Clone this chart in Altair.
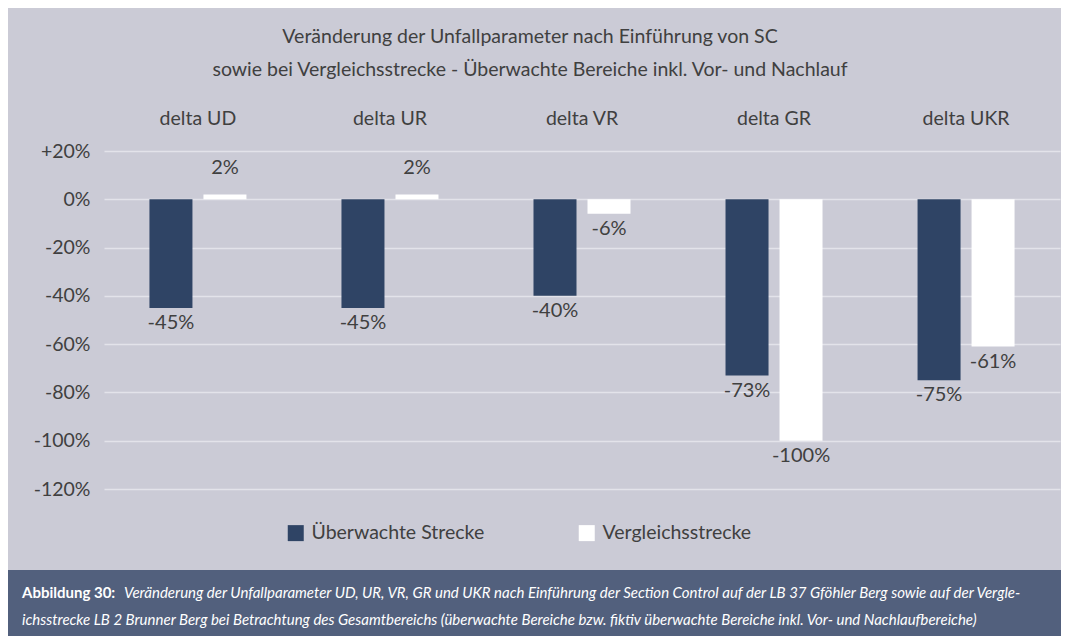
import altair as alt
import pandas as pd

categories = ["delta UD", "delta UR", "delta VR", "delta GR", "delta UKR"]
series = ["Überwachte Strecke", "Vergleichsstrecke"]
ueberwacht = [-45, -45, -40, -73, -75]
vergleich = [2, 2, -6, -100, -61]
y_ticks = [20, 0, -20, -40, -60, -80, -100, -120]

title_lines = [
    "Veränderung der Unfallparameter nach Einführung von SC",
    "sowie bei Vergleichsstrecke - Überwachte Bereiche inkl. Vor- und Nachlauf",
]
caption_bold = "Abbildung 30:"
caption_line1 = ("Veränderung der Unfallparameter UD, UR, VR, GR und UKR nach Einführung der Section Control "
                 "auf der LB 37 Gföhler Berg sowie auf der Vergle-")
caption_line2 = ("ichsstrecke LB 2 Brunner Berg bei Betrachtung des Gesamtbereichs (überwachte Bereiche bzw. "
                 "fiktiv überwachte Bereiche inkl. Vor- und Nachlaufbereiche)")

FONT = "Lato"
TXT = "#404040"
BG = "#cbcbd6"
DARK = "#2f4465"
BAND = "#52607d"

rows = []
for i, c in enumerate(categories):
    rows.append({"cat": c, "serie": series[0], "val": ueberwacht[i]})
    rows.append({"cat": c, "serie": series[1], "val": vergleich[i]})
df = pd.DataFrame(rows)
df["label"] = df["val"].astype(str) + "%"

W, H = 956, 338

x_enc = alt.X("cat:N", sort=categories,
              scale=alt.Scale(paddingInner=0.4375, paddingOuter=0.208),
              axis=alt.Axis(orient="top", title=None, domain=False, ticks=False, grid=False,
                            labelAngle=0, labelFontSize=19.5, labelColor=TXT, labelFont=FONT,
                            labelPadding=23))
xo_enc = alt.XOffset("serie:N", sort=series,
                     scale=alt.Scale(paddingInner=0.2037, paddingOuter=0.1019))
y_enc = alt.Y("val:Q", scale=alt.Scale(domain=[-120, 20], nice=False),
              axis=alt.Axis(values=y_ticks, title=None, domain=False, ticks=False,
                            labelFontSize=19.5, labelColor=TXT, labelFont=FONT, labelPadding=14,
                            gridColor="#e3e3ea", gridWidth=1.5,
                            labelExpr="datum.value > 0 ? '+' + datum.value + '%' : datum.value + '%'"))

base = alt.Chart(df)

bars = base.mark_bar().encode(
    x=x_enc, xOffset=xo_enc, y=y_enc, y2=alt.datum(0),
    color=alt.Color("serie:N", sort=series,
                    scale=alt.Scale(domain=series, range=[DARK, "#ffffff"]),
                    legend=alt.Legend(title=None, orient="none", direction="horizontal",
                                      legendX=182, legendY=372, symbolType="square",
                                      symbolSize=256, symbolStrokeWidth=0, labelFontSize=19.5,
                                      labelFont=FONT, labelColor=TXT, columnPadding=92,
                                      labelOffset=6, labelLimit=400)),
)

pos_labels = base.transform_filter("datum.val > 0").mark_text(
    baseline="bottom", dy=-16, fontSize=20, font=FONT, color=TXT
).encode(x=alt.X("cat:N", sort=categories), xOffset=alt.XOffset("serie:N", sort=series),
         y="val:Q", text="label:N")

neg_labels = base.transform_filter("datum.val <= 0").mark_text(
    baseline="top", dy=5, fontSize=20, font=FONT, color=TXT
).encode(x=alt.X("cat:N", sort=categories), xOffset=alt.XOffset("serie:N", sort=series),
         y="val:Q", text="label:N")

one = alt.Data(values=[{"a": 1}])
band = alt.Chart(one).mark_rect(color=BAND).encode(
    x=alt.value(-96), x2=alt.value(957), y=alt.value(419), y2=alt.value(487))

cap_b = alt.Chart(one).mark_text(align="left", baseline="middle", fontSize=15, font=FONT,
                                 fontWeight="bold", color="#ffffff").encode(
    x=alt.value(-82), y=alt.value(442), text=alt.value(caption_bold))
cap_1 = alt.Chart(one).mark_text(align="left", baseline="middle", fontSize=15, font=FONT,
                                 fontStyle="italic", color="#ffffff").encode(
    x=alt.value(20), y=alt.value(442), text=alt.value(caption_line1))
cap_2 = alt.Chart(one).mark_text(align="left", baseline="middle", fontSize=15, font=FONT,
                                 fontStyle="italic", color="#ffffff").encode(
    x=alt.value(-82), y=alt.value(469), text=alt.value(caption_line2))

chart = alt.layer(bars, pos_labels, neg_labels, band, cap_b, cap_1, cap_2).properties(
    width=W, height=H,
    autosize=alt.AutoSizeParams(type="none"),
    padding={"left": 96, "top": 143, "right": 1, "bottom": 147},
    background=BG,
    title=alt.TitleParams(text=title_lines, fontSize=19.5, font=FONT, color=TXT,
                          fontWeight="normal", anchor="middle", frame="group",
                          dx=-52, offset=28, lineHeight=33),
).configure_view(stroke=None)

chart.save("out.html", embed_options={"renderer": "svg", "actions": False})
